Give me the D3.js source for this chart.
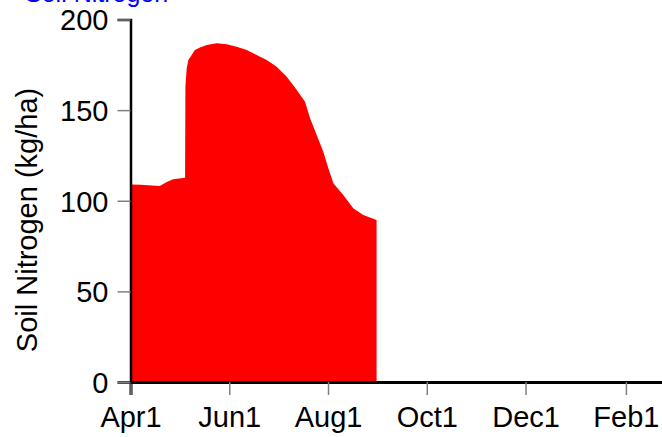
<!DOCTYPE html>
<html>
<head>
<meta charset="utf-8">
<script src="https://cdn.jsdelivr.net/npm/d3@7"></script>
<style>
  html, body { margin: 0; padding: 0; background: #fff; overflow: hidden; }
  svg { display: block; font-family: "Liberation Sans", Arial, sans-serif; }
</style>
</head>
<body>
<svg id="chart" width="662" height="437"></svg>
<script>
// ---- data ----
const dates = ["2021-04-01T00","2021-04-07T00","2021-04-19T00","2021-04-23T10","2021-04-27T07",
  "2021-05-04T17","2021-05-04T22","2021-05-05T17","2021-05-06T17","2021-05-08T19","2021-05-10T19",
  "2021-05-13T22","2021-05-18T02","2021-05-24T05","2021-05-30T10","2021-06-05T14","2021-06-11T19",
  "2021-06-17T22","2021-06-24T02","2021-06-30T07","2021-07-06T12","2021-07-12T17","2021-07-17T19",
  "2021-07-20T22","2021-07-25T00","2021-07-29T02","2021-08-01T05","2021-08-04T07","2021-08-10T10",
  "2021-08-16T14","2021-08-22T19","2021-08-31T00"];
const nitrogen = [109, 108.8, 108.2, 110.4, 111.9,
  112.7, 163, 173, 177.7, 180.4, 183.2,
  184.5, 185.9, 186.9, 186.3, 185, 183.2,
  180.4, 177.7, 174, 168.4, 161.1, 154.6,
  145.5, 136.3, 127.1, 117.9, 109.6, 103.2,
  95.8, 92.1, 89.4];
const xTickDates = ["2021-04-01T00","2021-06-01T00","2021-08-01T00","2021-10-01T00","2021-12-01T00","2022-02-01T00"];
const xTickLabels = ["Apr1","Jun1","Aug1","Oct1","Dec1","Feb1"];
const yTickValues = [0, 50, 100, 150, 200];
const xDomain = ["2021-04-01T00","2022-04-01T00"];
const title = "Soil Nitrogen";
const yLabel = "Soil Nitrogen (kg/ha)";

// ---- chart ----
const parse = d3.utcParse("%Y-%m-%dT%H");
const data = dates.map((d, i) => ({ date: parse(d), value: nitrogen[i] }));
const svg = d3.select("#chart");

const x = d3.scaleUtc().domain(xDomain.map(parse)).range([130.5, 130.5 + 365 * 1.619]);
const y = d3.scaleLinear().domain([0, 200]).range([382, 19.5]);

// area
const area = d3.area()
  .x(d => x(d.date))
  .y0(y(0))
  .y1(d => y(d.value));
svg.append("path").datum(data).attr("d", area).attr("fill", "#ff0000");

// x axis
const xTicks = xTickDates.map(parse);
const xAxis = svg.append("g").attr("transform", `translate(0,${y(0)})`)
  .call(d3.axisBottom(x).tickValues(xTicks).tickSizeOuter(0).tickSize(13)
    .tickFormat((d, i) => xTickLabels[i]));
xAxis.select(".domain").attr("stroke", "#000").attr("stroke-width", 3);
xAxis.selectAll(".tick line").attr("stroke", "#808080").attr("stroke-width", 1.5);
xAxis.selectAll(".tick text").attr("font-size", 29).attr("fill", "#000").attr("dy", null).attr("y", 45);

// y axis
const yAxis = svg.append("g").attr("transform", `translate(${x(parse(xDomain[0]))},0)`)
  .call(d3.axisLeft(y).tickValues(yTickValues).tickSizeOuter(0).tickSize(13));
yAxis.select(".domain").attr("stroke", "#000").attr("stroke-width", 2.5);
yAxis.selectAll(".tick line").attr("stroke", "#808080").attr("stroke-width", 1.5);
yAxis.selectAll(".tick text").attr("font-size", 29).attr("fill", "#000").attr("x", -22).attr("dy", "0.36em");

// y label
svg.append("text")
  .attr("transform", "translate(37,220) rotate(-90)")
  .attr("text-anchor", "middle")
  .attr("font-size", 29)
  .attr("fill", "#000")
  .text(yLabel);

// title (cut off at top, as in the reference)
svg.append("text")
  .attr("x", 25).attr("y", 2)
  .attr("font-size", 25)
  .attr("fill", "#0000ff")
  .text(title);
</script>
</body>
</html>
